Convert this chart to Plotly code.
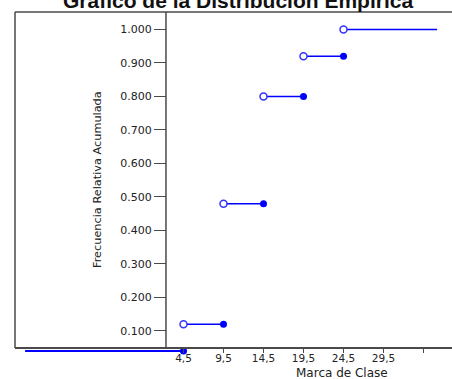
import plotly.graph_objects as go

# Data
class_marks = [4.5, 9.5, 14.5, 19.5, 24.5, 29.5]
cum_rel_freq = [0.04, 0.12, 0.48, 0.80, 0.92, 1.00]
x_tick_vals = [4.5, 9.5, 14.5, 19.5, 24.5, 29.5, 34.5]
x_tick_text = ["4,5", "9,5", "14,5", "19,5", "24,5", "29,5", ""]
y_tick_vals = [0.1, 0.2, 0.3, 0.4, 0.5, 0.6, 0.7, 0.8, 0.9, 1.0]
tail_left = -15.3      # where the first (leftmost) step starts
tail_right = 36.2      # where the last step ends

# Axis settings
x_range = [-16.56, 38.06]
y_range = [0.0373, 1.052]
y_axis_at_x = 2.31     # x value where the y axis is drawn
x_axis_at_y = 0.049    # y value where the x axis is drawn

BLUE = "#0000FF"
FRAME = "#4a4a4a"

seg_x, seg_y = [], []
hollow_x, hollow_y, filled_x, filled_y = [], [], [], []

tail_x = [tail_left, class_marks[0]]
tail_y = [cum_rel_freq[0], cum_rel_freq[0]]
filled_x.append(class_marks[0]); filled_y.append(cum_rel_freq[0])

n = len(class_marks)
for i in range(1, n):
    x0 = class_marks[i - 1]
    x1 = class_marks[i] if i < n - 1 else tail_right
    seg_x += [x0, x1, None]
    seg_y += [cum_rel_freq[i], cum_rel_freq[i], None]
    hollow_x.append(x0); hollow_y.append(cum_rel_freq[i])
    if i < n - 1:
        filled_x.append(class_marks[i]); filled_y.append(cum_rel_freq[i])

fig = go.Figure()
fig.add_trace(go.Scatter(x=tail_x, y=tail_y, mode="lines",
                         line=dict(color=BLUE, width=2.2), hoverinfo="skip"))
fig.add_trace(go.Scatter(x=seg_x, y=seg_y, mode="lines",
                         line=dict(color=BLUE, width=1.5), hoverinfo="skip"))
fig.add_trace(go.Scatter(x=hollow_x, y=hollow_y, mode="markers", cliponaxis=False,
                         marker=dict(symbol="circle", size=7, color="white",
                                     line=dict(color="#3333FF", width=1.5))))
fig.add_trace(go.Scatter(x=filled_x, y=filled_y, mode="markers", cliponaxis=False,
                         marker=dict(symbol="circle", size=7, color=BLUE,
                                     line=dict(width=0))))

x_pos = (x_axis_at_y - y_range[0]) / (y_range[1] - y_range[0])
y_pos = (y_axis_at_x - x_range[0]) / (x_range[1] - x_range[0])

small = dict(family="DejaVu Sans", size=10.5, color="#222222")

fig.update_layout(
    width=452, height=379,
    margin=dict(l=15, r=0, t=12, b=27),
    paper_bgcolor="white", plot_bgcolor="white",
    showlegend=False,
    xaxis=dict(range=x_range, anchor="free", position=x_pos,
               showline=True, linecolor=FRAME, linewidth=1.5,
               showgrid=False, zeroline=False,
               tickmode="array", tickvals=x_tick_vals, ticktext=x_tick_text,
               ticks="outside", ticklen=4, tickcolor=FRAME, tickwidth=1,
               tickfont=small, ticklabelstandoff=-3),
    yaxis=dict(range=y_range, anchor="free", position=y_pos,
               showline=False, showgrid=False, zeroline=False,
               tickmode="array", tickvals=y_tick_vals, tickformat=".3f",
               ticks="outside", ticklen=12, tickcolor=FRAME, tickwidth=1.2,
               tickfont=dict(family="DejaVu Sans", size=11, color="#222222")),
    shapes=[
        dict(type="line", xref="paper", yref="paper", x0=0, x1=0, y0=x_pos, y1=1,
             line=dict(color=FRAME, width=1.5)),
        dict(type="line", xref="paper", yref="paper", x0=0, x1=1, y0=1, y1=1,
             line=dict(color=FRAME, width=1.5)),
        dict(type="line", xref="paper", yref="paper", x0=y_pos, x1=y_pos, y0=x_pos, y1=1,
             line=dict(color=FRAME, width=1.5)),
    ],
    annotations=[
        dict(text="<b>Gráfico de la Distribución Empírica</b>", xref="paper", yref="paper",
             x=0.511, y=0.997, xanchor="center", yanchor="bottom", showarrow=False,
             borderpad=0,
             font=dict(family="Liberation Sans", size=21, color="#111111")),
        dict(text="Marca de Clase", xref="paper", yref="paper",
             x=0.748, y=-0.063, xanchor="center", yanchor="middle", showarrow=False,
             font=dict(family="DejaVu Sans", size=12, color="#222222")),
        dict(text="Frecuencia Relativa Acumulada", xref="paper", yref="paper",
             x=0.19, y=0.506, xanchor="center", yanchor="middle", showarrow=False,
             textangle=-90,
             font=dict(family="DejaVu Sans", size=11.3, color="#222222")),
    ],
)

fig.write_html("out.html", config={"displayModeBar": False},
               post_script="document.body.style.margin='0px';document.body.style.overflow='hidden';")
